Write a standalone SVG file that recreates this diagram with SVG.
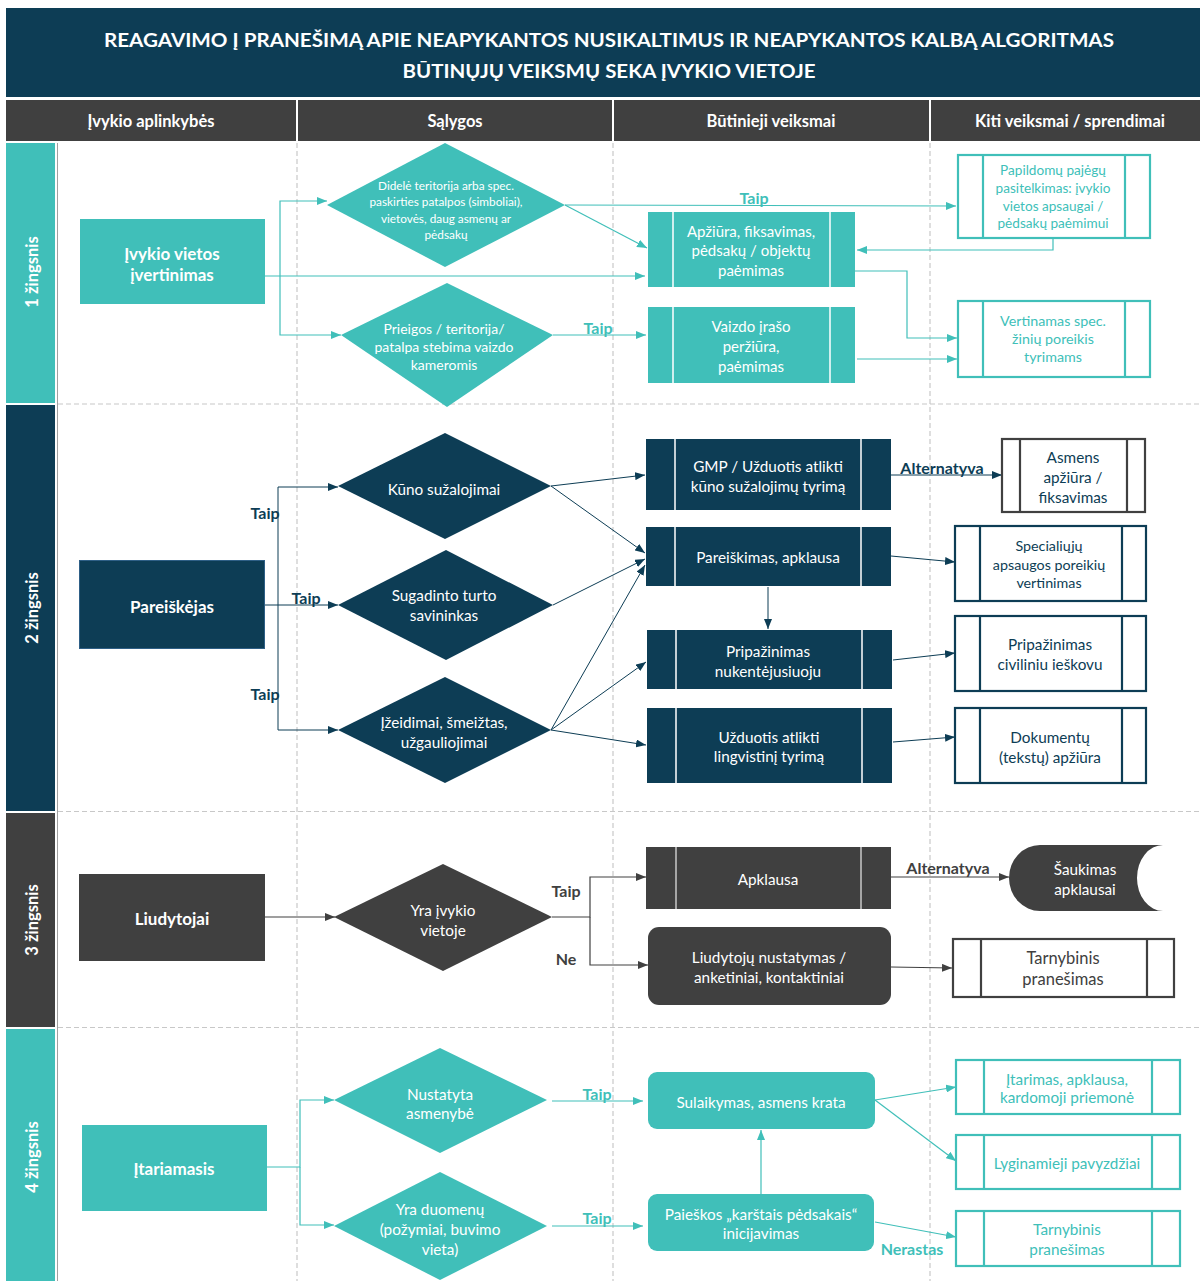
<svg xmlns="http://www.w3.org/2000/svg" width="1200" height="1281" viewBox="0 0 1200 1281">
<style>
text{font-family:Lato,"Open Sans","Liberation Sans",sans-serif;dominant-baseline:central;text-anchor:middle}
.w{fill:#fff}
.b{font-weight:bold}
.t{fill:#40bfb9}
.n{fill:#0d3d55}
.g{fill:#404040}
.ct{fill:none;stroke:#40bfb9;stroke-width:1.2}
.cn{fill:none;stroke:#0d3d55;stroke-width:1}
.cg{fill:none;stroke:#404040;stroke-width:1.2}
.dash{stroke:#c8c8c8;stroke-width:1.2;stroke-dasharray:5 3;fill:none}
.ft{fill:#40bfb9}
.fn{fill:#0d3d55}
.fg{fill:#404040}
.ot{fill:#fff;stroke:#40bfb9;stroke-width:2.2}
.on{fill:#fff;stroke:#0d3d55;stroke-width:2.2}
.og{fill:#fff;stroke:#404040;stroke-width:2.2}
.il{stroke:#fff;stroke-width:1.5}
.ilt{stroke:#40bfb9;stroke-width:2.2}
.iln{stroke:#0d3d55;stroke-width:2.2}
.ilg{stroke:#404040;stroke-width:2.2}
.lb{font-size:15;font-weight:bold}
.s{font-size:15.3px}
</style>
<defs>
<marker id="aT" viewBox="0 0 10 8" refX="10" refY="4" markerWidth="10" markerHeight="8" orient="auto" markerUnits="userSpaceOnUse"><path d="M0,0 L10,4 L0,8 Z" fill="#40bfb9"/></marker>
<marker id="aN" viewBox="0 0 10 8" refX="10" refY="4" markerWidth="10" markerHeight="8" orient="auto" markerUnits="userSpaceOnUse"><path d="M0,0 L10,4 L0,8 Z" fill="#0d3d55"/></marker>
<marker id="aG" viewBox="0 0 10 8" refX="10" refY="4" markerWidth="10" markerHeight="8" orient="auto" markerUnits="userSpaceOnUse"><path d="M0,0 L10,4 L0,8 Z" fill="#404040"/></marker>
</defs>
<rect width="1200" height="1281" fill="#fff"/>

<g id="header">
<rect x="6" y="8" width="1194" height="89" fill="#0d3d55"/>
<text class="w b" x="609" y="39" font-size="19.5" textLength="1010" lengthAdjust="spacingAndGlyphs">REAGAVIMO Į PRANEŠIMĄ APIE NEAPYKANTOS NUSIKALTIMUS IR NEAPYKANTOS KALBĄ ALGORITMAS</text>
<text class="w b" x="609" y="70" font-size="19.5" textLength="413" lengthAdjust="spacingAndGlyphs">BŪTINŲJŲ VEIKSMŲ SEKA ĮVYKIO VIETOJE</text>
<rect x="6" y="100" width="1194" height="41" fill="#404040"/>
<path d="M297,100 V141 M613,100 V141 M930,100 V141" stroke="#fff" stroke-width="2"/>
<text class="w b" x="151" y="121" font-size="16.5">Įvykio aplinkybės</text>
<text class="w b" x="455" y="121" font-size="16.5">Sąlygos</text>
<text class="w b" x="771" y="121" font-size="16.5">Būtinieji veiksmai</text>
<text class="w b" x="1070" y="121" font-size="16.5">Kiti veiksmai / sprendimai</text>
</g>

<g id="lanes">
<rect x="6" y="143" width="49" height="260" fill="#40bfb9"/>
<rect x="6" y="405" width="49" height="406" fill="#0d3d55"/>
<rect x="6" y="813" width="49" height="214" fill="#404040"/>
<rect x="6" y="1029" width="49" height="252" fill="#40bfb9"/>
<path d="M57.5,143 V1281" stroke="#a0a0a0" stroke-width="1"/>
<text class="w b" font-size="16.5" transform="translate(32,272) rotate(-90)">1 žingsnis</text>
<text class="w b" font-size="16.5" transform="translate(32,608) rotate(-90)">2 žingsnis</text>
<text class="w b" font-size="16.5" transform="translate(32,920) rotate(-90)">3 žingsnis</text>
<text class="w b" font-size="16.5" transform="translate(32,1157) rotate(-90)">4 žingsnis</text>
<path class="dash" d="M58,404 H1200 M58,811.5 H1200 M58,1027.5 H1200 M297,143 V1281 M613,143 V1281 M930,143 V1281"/>
</g>

<g id="connectors">
<!-- step 1 -->
<path class="ct" d="M265,276 H645" marker-end="url(#aT)"/>
<path class="ct" d="M280,276 V201 H327" marker-end="url(#aT)"/>
<path class="ct" d="M280,276 V335 H341" marker-end="url(#aT)"/>
<path class="ct" d="M565,205 L956,206" marker-end="url(#aT)"/>
<path class="ct" d="M565,205 L647,248" marker-end="url(#aT)"/>
<path class="ct" d="M553,335 H646" marker-end="url(#aT)"/>
<path class="ct" d="M1053,238 V250 H857" marker-end="url(#aT)"/>
<path class="ct" d="M855,271 H907 V338 H957" marker-end="url(#aT)"/>
<path class="ct" d="M857,359 H957" marker-end="url(#aT)"/>
<text class="t lb" x="754" y="197">Taip</text>
<text class="t lb" x="598" y="327">Taip</text>
<!-- step 2 -->
<path class="cn" d="M265,605 H338" marker-end="url(#aN)"/>
<path class="cn" d="M278,605 V487 H338" marker-end="url(#aN)"/>
<path class="cn" d="M278,605 V730 H338" marker-end="url(#aN)"/>
<path class="cn" d="M551,486 L645,475" marker-end="url(#aN)"/>
<path class="cn" d="M551,486 L645,553" marker-end="url(#aN)"/>
<path class="cn" d="M553,605 L645,559" marker-end="url(#aN)"/>
<path class="cn" d="M551,730 L645,565" marker-end="url(#aN)"/>
<path class="cn" d="M551,730 L646,662" marker-end="url(#aN)"/>
<path class="cn" d="M551,730 L646,745" marker-end="url(#aN)"/>
<path class="cn" d="M891,475 H1002" marker-end="url(#aN)"/>
<path class="cn" d="M891,556 L955,562" marker-end="url(#aN)"/>
<path class="cn" d="M768,587 V629" marker-end="url(#aN)"/>
<path class="cn" d="M893,660 L955,653" marker-end="url(#aN)"/>
<path class="cn" d="M893,742 L955,737" marker-end="url(#aN)"/>
<text class="n lb" x="265" y="512">Taip</text>
<text class="n lb" x="306" y="597">Taip</text>
<text class="n lb" x="265" y="693">Taip</text>
<text class="n lb" x="942" y="467" font-size="16">Alternatyva</text>
<!-- step 3 -->
<path class="cg" d="M265,917 H335" marker-end="url(#aG)"/>
<path class="cg" d="M552,917 H590 V877 H646" marker-end="url(#aG)"/>
<path class="cg" d="M590,917 V965 H648" marker-end="url(#aG)"/>
<path class="cg" d="M891,877 H1009" marker-end="url(#aG)"/>
<path class="cg" d="M891,967 L952,968" marker-end="url(#aG)"/>
<text class="g lb" x="566" y="890">Taip</text>
<text class="g lb" x="566" y="958">Ne</text>
<text class="g lb" x="948" y="867" font-size="16">Alternatyva</text>
<!-- step 4 -->
<path class="ct" d="M267,1167 H300 V1100 H334" marker-end="url(#aT)"/>
<path class="ct" d="M300,1167 V1225 H334" marker-end="url(#aT)"/>
<path class="ct" d="M552,1101 H643" marker-end="url(#aT)"/>
<path class="ct" d="M552,1226 H643" marker-end="url(#aT)"/>
<path class="ct" d="M761,1194 V1130" marker-end="url(#aT)"/>
<path class="ct" d="M875,1100 L956,1087" marker-end="url(#aT)"/>
<path class="ct" d="M875,1100 L956,1161" marker-end="url(#aT)"/>
<path class="ct" d="M875,1222 L956,1237" marker-end="url(#aT)"/>
<text class="t lb" x="597" y="1093">Taip</text>
<text class="t lb" x="597" y="1217">Taip</text>
<text class="t lb" x="912" y="1248">Nerastas</text>
</g>

<!-- STEP 1 nodes -->
<g id="n-ivykio-vietos">
<rect x="80" y="219" width="185" height="85" class="ft"/>
<text class="w b" x="172" y="253" font-size="17">Įvykio vietos</text>
<text class="w b" x="172" y="274" font-size="17">įvertinimas</text>
</g>
<g id="n-didele">
<polygon points="445,143 565,205 445,267 327,205" class="ft"/>
<text class="w" x="446" y="185" font-size="11.8">Didelė teritorija arba spec.</text>
<text class="w" x="446" y="201" font-size="11.8">paskirties patalpos (simboliai),</text>
<text class="w" x="446" y="218" font-size="11.8">vietovės, daug asmenų ar</text>
<text class="w" x="446" y="234" font-size="11.8">pėdsakų</text>
</g>
<g id="n-prieigos">
<polygon points="447,283 553,335 447,407 341,335" class="ft"/>
<text class="w" x="444" y="328" font-size="14">Prieigos / teritorija/</text>
<text class="w" x="444" y="346" font-size="14">patalpa stebima vaizdo</text>
<text class="w" x="444" y="364" font-size="14">kameromis</text>
</g>
<g id="n-apziura">
<rect x="648" y="212" width="207" height="75" class="ft"/>
<path d="M673,212 V287 M830,212 V287" class="il"/>
<text class="w" x="751" y="231" font-size="15">Apžiūra, fiksavimas,</text>
<text class="w" x="751" y="250" font-size="15">pėdsakų / objektų</text>
<text class="w" x="751" y="270" font-size="15">paėmimas</text>
</g>
<g id="n-vaizdo">
<rect x="648" y="307" width="207" height="76" class="ft"/>
<path d="M673,307 V383 M830,307 V383" class="il"/>
<text class="w" x="751" y="326" font-size="15">Vaizdo įrašo</text>
<text class="w" x="751" y="346" font-size="15">peržiūra,</text>
<text class="w" x="751" y="366" font-size="15">paėmimas</text>
</g>
<g id="n-papildomu">
<rect x="958" y="155" width="192" height="83" class="ot"/>
<path d="M983,155 V238 M1125,155 V238" class="ilt"/>
<text class="t" x="1053" y="170" font-size="13.6">Papildomų pajėgų</text>
<text class="t" x="1053" y="188" font-size="13.6">pasitelkimas: įvykio</text>
<text class="t" x="1053" y="206" font-size="13.6">vietos apsaugai /</text>
<text class="t" x="1053" y="223" font-size="13.6">pėdsakų paėmimui</text>
</g>
<g id="n-vertinamas">
<rect x="958" y="301" width="192" height="76" class="ot"/>
<path d="M983,301 V377 M1125,301 V377" class="ilt"/>
<text class="t" x="1053" y="320" font-size="14.3">Vertinamas spec.</text>
<text class="t" x="1053" y="338" font-size="14.3">žinių poreikis</text>
<text class="t" x="1053" y="356" font-size="14.3">tyrimams</text>
</g>

<!-- STEP 2 nodes -->
<g id="n-pareiskejas">
<rect x="79.5" y="560.5" width="185" height="88" class="fn" stroke="#2e5f86" stroke-width="1"/>
<text class="w b" x="172" y="606" font-size="17">Pareiškėjas</text>
</g>
<g id="n-kuno">
<polygon points="445,433 551,486 445,539 338,486" class="fn"/>
<text class="w s" x="444" y="489">Kūno sužalojimai</text>
</g>
<g id="n-sugadinto">
<polygon points="446,550 553,605 446,660 338,605" class="fn"/>
<text class="w s" x="444" y="595">Sugadinto turto</text>
<text class="w s" x="444" y="615">savininkas</text>
</g>
<g id="n-izeidimai">
<polygon points="445,677 551,730 445,783 338,730" class="fn"/>
<text class="w s" x="444" y="722">Įžeidimai, šmeižtas,</text>
<text class="w s" x="444" y="742">užgauliojimai</text>
</g>
<g id="n-gmp">
<rect x="646" y="439" width="245" height="71" class="fn"/>
<path d="M675,439 V510 M861,439 V510" class="il"/>
<text class="w s" x="768" y="466">GMP / Užduotis atlikti</text>
<text class="w s" x="768" y="486">kūno sužalojimų tyrimą</text>
</g>
<g id="n-pareiskimas">
<rect x="646" y="527" width="245" height="59" class="fn"/>
<path d="M675,527 V586 M861,527 V586" class="il"/>
<text class="w s" x="768" y="557">Pareiškimas, apklausa</text>
</g>
<g id="n-pripazinimas-nuk">
<rect x="647" y="630" width="245" height="59" class="fn"/>
<path d="M676,630 V689 M862,630 V689" class="il"/>
<text class="w s" x="768" y="651">Pripažinimas</text>
<text class="w s" x="768" y="671">nukentėjusiuoju</text>
</g>
<g id="n-uzduotis">
<rect x="647" y="708" width="245" height="75" class="fn"/>
<path d="M676,708 V783 M862,708 V783" class="il"/>
<text class="w s" x="769" y="737">Užduotis atlikti</text>
<text class="w s" x="769" y="756">lingvistinį tyrimą</text>
</g>
<g id="n-asmens">
<rect x="1002" y="439" width="143" height="73" class="og"/>
<path d="M1020,439 V512 M1127,439 V512" class="ilg"/>
<text class="n s" x="1073" y="457">Asmens</text>
<text class="n s" x="1073" y="477">apžiūra /</text>
<text class="n s" x="1073" y="497">fiksavimas</text>
</g>
<g id="n-specialiuju">
<rect x="955" y="526" width="191" height="75" class="on"/>
<path d="M980,526 V601 M1122,526 V601" class="iln"/>
<text class="n" x="1049" y="545" font-size="14.3">Specialiųjų</text>
<text class="n" x="1049" y="564" font-size="14.3">apsaugos poreikių</text>
<text class="n" x="1049" y="582" font-size="14.3">vertinimas</text>
</g>
<g id="n-pripazinimas-civ">
<rect x="955" y="616" width="191" height="75" class="on"/>
<path d="M980,616 V691 M1122,616 V691" class="iln"/>
<text class="n s" x="1050" y="644">Pripažinimas</text>
<text class="n s" x="1050" y="664">civiliniu ieškovu</text>
</g>
<g id="n-dokumentu">
<rect x="955" y="708" width="191" height="75" class="on"/>
<path d="M980,708 V783 M1122,708 V783" class="iln"/>
<text class="n s" x="1050" y="737">Dokumentų</text>
<text class="n s" x="1050" y="757">(tekstų) apžiūra</text>
</g>

<!-- STEP 3 nodes -->
<g id="n-liudytojai">
<rect x="79" y="874" width="186" height="87" class="fg"/>
<text class="w b" x="172" y="918" font-size="17">Liudytojai</text>
</g>
<g id="n-yra-ivykio">
<polygon points="443,864 552,917 443,971 334,917" class="fg"/>
<text class="w s" x="443" y="910">Yra įvykio</text>
<text class="w s" x="443" y="930">vietoje</text>
</g>
<g id="n-apklausa">
<rect x="646" y="847" width="245" height="62" class="fg"/>
<path d="M676,847 V909 M861,847 V909" stroke="#c8c8c8" stroke-width="1.5"/>
<text class="w s" x="768" y="879">Apklausa</text>
</g>
<g id="n-liudytoju-nustatymas">
<rect x="648" y="927" width="243" height="78" rx="11" class="fg"/>
<text class="w s" x="769" y="957">Liudytojų nustatymas /</text>
<text class="w s" x="769" y="977">anketiniai, kontaktiniai</text>
</g>
<g id="n-saukimas">
<path d="M1040,845 H1163 A26,33 0 0 0 1163,911 H1040 A31,33 0 0 1 1040,845 Z" class="fg"/>
<text class="w s" x="1085" y="869">Šaukimas</text>
<text class="w s" x="1085" y="889">apklausai</text>
</g>
<g id="n-tarnybinis-3">
<rect x="953" y="939" width="221" height="58" class="og"/>
<path d="M981,939 V997 M1147,939 V997" class="ilg"/>
<text class="g" x="1063" y="958" font-size="16.5">Tarnybinis</text>
<text class="g" x="1063" y="979" font-size="16.5">pranešimas</text>
</g>

<!-- STEP 4 nodes -->
<g id="n-itariamasis">
<rect x="82" y="1125" width="185" height="86" class="ft"/>
<text class="w b" x="174" y="1168" font-size="17">Įtariamasis</text>
</g>
<g id="n-nustatyta">
<polygon points="440,1048 547,1100 440,1153 334,1100" class="ft"/>
<text class="w s" x="440" y="1094">Nustatyta</text>
<text class="w s" x="440" y="1113">asmenybė</text>
</g>
<g id="n-yra-duomenu">
<polygon points="440,1172 547,1226 440,1280 334,1226" class="ft"/>
<text class="w s" x="440" y="1209">Yra duomenų</text>
<text class="w s" x="440" y="1229">(požymiai, buvimo</text>
<text class="w s" x="440" y="1249">vieta)</text>
</g>
<g id="n-sulaikymas">
<rect x="648" y="1072" width="227" height="57" rx="9" class="ft"/>
<text class="w s" x="761" y="1102">Sulaikymas, asmens krata</text>
</g>
<g id="n-paieskos">
<rect x="648" y="1194" width="226" height="57" rx="9" class="ft"/>
<text class="w s" x="761" y="1214">Paieškos „karštais pėdsakais“</text>
<text class="w s" x="761" y="1233">inicijavimas</text>
</g>
<g id="n-itarimas">
<rect x="956" y="1060" width="224" height="54" class="ot"/>
<path d="M984,1060 V1114 M1152,1060 V1114" class="ilt"/>
<text class="t s" x="1067" y="1079">Įtarimas, apklausa,</text>
<text class="t s" x="1067" y="1097">kardomoji priemonė</text>
</g>
<g id="n-lyginamieji">
<rect x="956" y="1135" width="224" height="54" class="ot"/>
<path d="M984,1135 V1189 M1152,1135 V1189" class="ilt"/>
<text class="t s" x="1067" y="1163">Lyginamieji pavyzdžiai</text>
</g>
<g id="n-tarnybinis-4">
<rect x="956" y="1211" width="224" height="55" class="ot"/>
<path d="M984,1211 V1266 M1152,1211 V1266" class="ilt"/>
<text class="t s" x="1067" y="1229">Tarnybinis</text>
<text class="t s" x="1067" y="1249">pranešimas</text>
</g>
</svg>
